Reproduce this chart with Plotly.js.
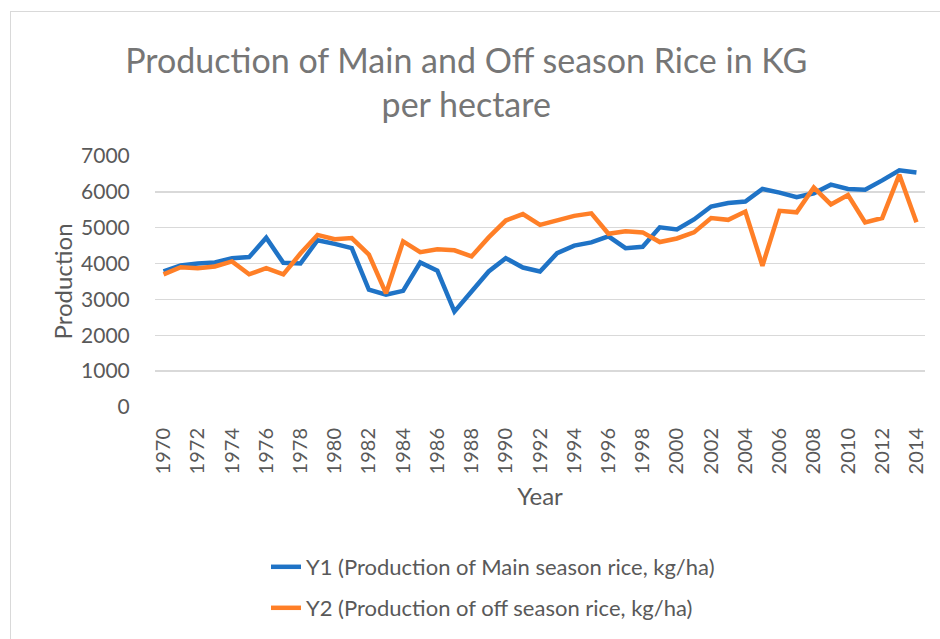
<!DOCTYPE html>
<html>
<head>
<meta charset="utf-8">
<script src="https://cdn.plot.ly/plotly-3.0.1.min.js"></script>
<style>
html,body{margin:0;padding:0;background:#fff;overflow:hidden;}
#frame{position:absolute;left:10px;top:11px;width:960px;height:660px;border:1.5px solid #d9d9d9;box-sizing:border-box;}
#chart{position:absolute;left:0;top:0;width:940px;height:639px;}
</style>
</head>
<body>
<div id="frame"></div>
<div id="chart"></div>
<script>
const years = [];
for (let y = 1970; y <= 2014; y++) years.push(y);

const mainSeason = [3780, 3950, 4000, 4030, 4150, 4180, 4720, 4020, 4000, 4650,
  4550, 4430, 3270, 3130, 3240, 4030, 3800, 2660, 3220, 3780,
  4150, 3890, 3780, 4290, 4500, 4590, 4760, 4430, 4470, 5010,
  4950, 5230, 5590, 5690, 5730, 6080, 5980, 5850, 5960, 6200,
  6080, 6060, 6320, 6600, 6540];

const offSeason = [3700, 3900, 3870, 3920, 4060, 3700, 3870, 3700, 4280, 4800,
  4680, 4710, 4250, 3170, 4620, 4320, 4400, 4370, 4200, 4730,
  5200, 5380, 5080, 5220, 5330, 5400, 4830, 4900, 4870, 4600,
  4700, 4870, 5270, 5220, 5450, 3940, 5470, 5430, 6120, 5650,
  5910, 5150, 5270, 6480, 5150];

const seriesNames = ['Y1 (Production of Main season rice, kg/ha)',
                     'Y2 (Production of off season rice, kg/ha)'];
const titleText = 'Production of Main and Off season Rice in KG<br>per hectare';
const xTitle = 'Year';
const yTitle = 'Production';

const FONT = 'Lato, "Open Sans", sans-serif';
const GREY = '#595959';

const traces = [
  {x: years, y: mainSeason, name: seriesNames[0], type: 'scatter', mode: 'lines',
   line: {color: '#1f73c6', width: 4.5}, legend: 'legend'},
  {x: years, y: offSeason, name: seriesNames[1], type: 'scatter', mode: 'lines',
   line: {color: '#ff7f27', width: 4.5}, legend: 'legend2'}
];

const layout = {
  width: 940, height: 639,
  margin: {l: 155, r: 15, t: 156, b: 232, autoexpand: false},
  paper_bgcolor: 'rgba(0,0,0,0)',
  plot_bgcolor: 'rgba(0,0,0,0)',
  font: {family: FONT, color: GREY, size: 20},
  title: {text: titleText, x: 0.496, xref: 'container', xanchor: 'center',
          y: 1 - 73/639, yref: 'container', yanchor: 'middle',
          font: {family: FONT, size: 34, color: '#767676'}},
  xaxis: {range: [1969.5, 2014.5], tickmode: 'linear', tick0: 1970, dtick: 2,
          tickangle: -90, showgrid: false, zeroline: false, showline: false,
          ticks: 'outside', ticklen: 12, tickcolor: 'rgba(0,0,0,0)', automargin: true,
          tickfont: {family: FONT, size: 20, color: GREY},
          title: {text: xTitle, font: {family: FONT, size: 24, color: GREY}, standoff: 14}},
  yaxis: {range: [0, 7000], dtick: 1000, showgrid: true, gridcolor: '#d9d9d9', gridwidth: 1.5,
          zeroline: false, showline: false, ticks: 'outside', ticklen: 20, tickcolor: 'rgba(0,0,0,0)', automargin: true,
          tickfont: {family: FONT, size: 21, color: GREY}},
  annotations: [{text: yTitle, xref: 'paper', yref: 'paper', x: (62 - 155) / 770, y: 0.5,
                 xanchor: 'center', yanchor: 'middle', textangle: -90, showarrow: false,
                 font: {family: FONT, size: 24, color: GREY}}],
  showlegend: true,
  legend: {x: 266/940, xref: 'container', xanchor: 'left', y: 1 - 567/639, yref: 'container', yanchor: 'middle',
           font: {family: FONT, size: 22, color: GREY}, bgcolor: 'rgba(0,0,0,0)'},
  legend2: {x: 266/940, xref: 'container', xanchor: 'left', y: 1 - 608/639, yref: 'container', yanchor: 'middle',
           font: {family: FONT, size: 22, color: GREY}, bgcolor: 'rgba(0,0,0,0)'}
};

Plotly.newPlot('chart', traces, layout, {displayModeBar: false, staticPlot: true});
</script>
</body>
</html>
